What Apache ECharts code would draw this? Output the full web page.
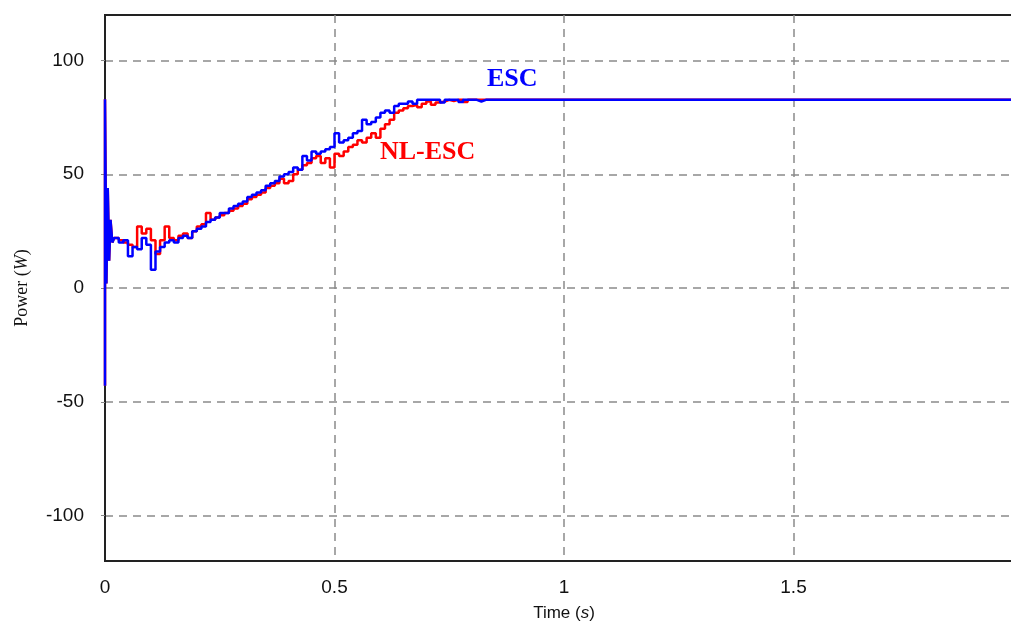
<!DOCTYPE html>
<html>
<head>
<meta charset="utf-8">
<script src="https://cdn.jsdelivr.net/npm/echarts@6/dist/echarts.min.js"></script>
<style>
html,body{margin:0;padding:0;background:#fff;}
#chart{width:1011px;height:626px;}
</style>
</head>
<body>
<div id="chart"></div>
<script>
// Time samples (s)
var timeValues = [0, 0, 0.003, 0.006, 0.009, 0.012, 0.016,
  0.02,0.03,0.04,0.05,0.06,0.07,0.08,0.09,0.10,0.11,0.12,0.13,0.14,0.15,0.16,0.17,0.18,0.19,
  0.20,0.21,0.22,0.23,0.24,0.25,0.26,0.27,0.28,0.29,0.30,0.31,0.32,0.33,0.34,0.35,0.36,0.37,0.38,0.39,
  0.40,0.41,0.42,0.43,0.44,0.45,0.46,0.47,0.48,0.49,0.50,0.51,0.52,0.53,0.54,0.55,0.56,0.57,0.58,0.59,
  0.60,0.61,0.62,0.63,0.64,0.65,0.66,0.67,0.68,0.69,0.70,0.71,0.72,0.73,0.74,0.75,0.76,0.77,0.78,0.79,
  0.80,0.81,0.82,0.83,0.84,0.85, 2];

// ESC power (W)
var escValues = [-43, 83, 2, 44, 12, 30, 20,
  22,20,21,14,18,17,22,19,8,16,18,20,21,20,22,23,22,25,
  26,27,29,30,31,33,33,35,36,37,38,40,41,42,43,45,46,47,49,50,
  51,53,52,58,56,60,59,60,61,62,68,64,65,66,68,69,74,72,73,75,
  77,78,77,80,81,81,82,81,82.7,82.7,82.7,82.7,82.7,81.5,82.7,82.7,82.7,81.8,82.7,82.7,
  82.7,82.0,82.7,82.7,82.7,82.7, 82.7];

// NL-ESC power (W)
var nlescValues = [-43, 83, 2, 44, 12, 30, 20,
  22,21,20,19,18,27,24,26,21,15,21,27,22,21,23,24,22,25,
  27,28,33,30,31,32,33,34,35,36,37,39,40,41,42,44,45,46,48,46,
  47,50,52,54,55,57,58,55,57,53,59,58,60,62,63,65,64,66,68,66,
  70,72,74,77,78,79,80,80.5,79.5,81,82,80.5,81.5,82,82.7,82.2,82.7,82.7,81.8,82.7,
  82.7,82.7,82.7,82.7,82.7,82.7, 82.7];

var yTicks = [-100, -50, 0, 50, 100];

function pairs(vals) {
  return timeValues.map(function (t, i) { return [t, vals[i]]; });
}

var chart = echarts.init(document.getElementById('chart'), null, {renderer: 'canvas'});
chart.setOption({
  animation: false,
  backgroundColor: '#ffffff',
  grid: {left: 105, right: -12, top: 15, bottom: 65, containLabel: false, outerBoundsMode: 'none',
    show: true, borderColor: '#222', borderWidth: 2, backgroundColor: 'transparent'},
  xAxis: {
    type: 'value', min: 0, max: 2, interval: 0.5,
    axisLine: {show: true, onZero: false, lineStyle: {color: '#222', width: 2}},
    axisTick: {show: false},
    axisLabel: {color: '#111', fontSize: 19, fontFamily: 'Liberation Sans, Arial', margin: 17,
      formatter: function (v) { return String(v); }},
    splitLine: {show: true, lineStyle: {color: '#8a8a8a', type: [8, 6], width: 1.5}},
    name: '{a|Time (}{b|s}{a|)}', nameLocation: 'middle', nameGap: 44,
    nameTextStyle: {rich: {
      a: {fontSize: 17, color: '#111', fontFamily: 'Liberation Sans, Arial'},
      b: {fontSize: 17, color: '#111', fontFamily: 'Liberation Sans, Arial', fontStyle: 'italic'}}}
  },
  yAxis: {
    type: 'value', min: -120, max: 120,
    axisLine: {show: true, onZero: false, lineStyle: {color: '#222', width: 2}},
    axisTick: {show: true, length: 4, customValues: yTicks, lineStyle: {color: '#888'}},
    axisLabel: {color: '#111', fontSize: 19, fontFamily: 'Liberation Sans, Arial', margin: 21, customValues: yTicks},
    splitLine: {show: true, lineStyle: {color: '#8a8a8a', type: [8, 6], width: 1.5}},
    name: '{a|Power (}{b|W}{a|)}', nameLocation: 'middle', nameGap: 74, nameRotate: 90,
    nameTextStyle: {rich: {
      a: {fontSize: 18, color: '#111', fontFamily: 'Liberation Serif, Times New Roman'},
      b: {fontSize: 18, color: '#111', fontFamily: 'Liberation Serif, Times New Roman', fontStyle: 'italic'}}}
  },
  series: [
    {name: 'NL-ESC', type: 'line', data: pairs(nlescValues), showSymbol: false, step: 'end',
      lineStyle: {color: '#ff0000', width: 2.5}, itemStyle: {color: '#ff0000'}},
    {name: 'ESC', type: 'line', data: pairs(escValues), showSymbol: false, step: 'end',
      lineStyle: {color: '#0000ff', width: 2.5}, itemStyle: {color: '#0000ff'}}
  ],
  graphic: [
    {type: 'text', left: 487, top: 66, style: {text: 'ESC', fill: '#0000ff', font: 'bold 26px "Liberation Serif", "Times New Roman", serif'}},
    {type: 'text', left: 380, top: 139, style: {text: 'NL-ESC', fill: '#ff0000', font: 'bold 26px "Liberation Serif", "Times New Roman", serif'}}
  ]
});
</script>
</body>
</html>
